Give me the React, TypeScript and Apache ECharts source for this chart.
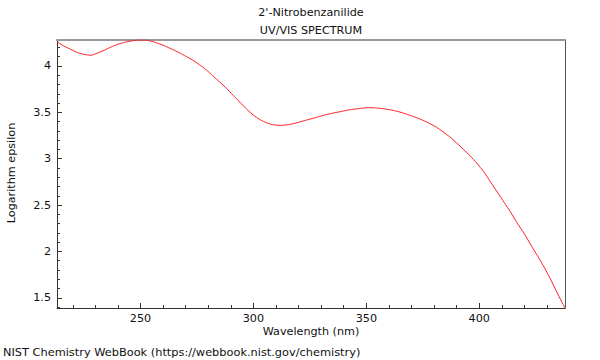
import React, { useEffect, useRef } from "react";
import * as echarts from "echarts";

const wavelength = [
  213, 216, 219, 222, 225, 228, 231, 234, 237, 240, 243, 246, 249, 252, 255, 258, 261, 264, 267, 270,
  273, 276, 279, 282, 285, 288, 291, 294, 297, 300, 303, 306, 309, 312, 315, 318, 321, 324, 327, 330,
  333, 336, 339, 342, 345, 348, 351, 354, 357, 360, 363, 366, 369, 372, 375, 378, 381, 384, 387, 390,
  393, 396, 399, 402, 405, 408, 411, 414, 417, 420, 423, 426, 429, 432, 435, 438,
];
const logEpsilon = [
  4.26, 4.215, 4.18, 4.145, 4.125, 4.115, 4.14, 4.17, 4.205, 4.235, 4.255, 4.27, 4.28, 4.28, 4.265, 4.242, 4.213, 4.18, 4.145, 4.105,
  4.065, 4.015, 3.96, 3.895, 3.828, 3.76, 3.685, 3.61, 3.535, 3.47, 3.42, 3.385, 3.365, 3.36, 3.365, 3.38, 3.4, 3.42, 3.44, 3.46,
  3.48, 3.495, 3.51, 3.525, 3.535, 3.545, 3.55, 3.548, 3.54, 3.53, 3.515, 3.495, 3.47, 3.445, 3.415, 3.38, 3.34, 3.29, 3.235, 3.17,
  3.1, 3.03, 2.95, 2.86, 2.75, 2.64, 2.53, 2.42, 2.3, 2.19, 2.065, 1.945, 1.82, 1.68, 1.53, 1.39,
];

const xMajorTicks = [250, 300, 350, 400];
const xMinorTicks = [220, 230, 240, 260, 270, 280, 290, 310, 320, 330, 340, 360, 370, 380, 390, 410, 420, 430];
const yMajorTicks = [1.5, 2, 2.5, 3, 3.5, 4];
const yMinorTicks = [
  1.4, 1.6, 1.7, 1.8, 1.9, 2.1, 2.2, 2.3, 2.4, 2.6, 2.7, 2.8, 2.9, 3.1, 3.2, 3.3, 3.4, 3.6, 3.7, 3.8, 3.9, 4.1, 4.2,
];

const X_MIN = 213;
const X_MAX = 438;
const Y_MIN = 1.39;
const Y_MAX = 4.28;

const titleLines = ["2'-Nitrobenzanilide", "UV/VIS SPECTRUM"];
const xName = "Wavelength (nm)";
const yName = "Logarithm epsilon";
const footer = "NIST Chemistry WebBook (https://webbook.nist.gov/chemistry)";

const FONT = "DejaVu Sans";
const FS = 11.2;

export default function App() {
  const ref = useRef<HTMLDivElement>(null);
  useEffect(() => {
    if (!ref.current) return;
    const chart = echarts.init(ref.current, null, { renderer: "svg" });
    const baseX = {
      type: "value" as const,
      min: X_MIN,
      max: X_MAX,
      splitLine: { show: false },
    };
    const baseY = {
      type: "value" as const,
      min: Y_MIN,
      max: Y_MAX,
      splitLine: { show: false },
    };
    const textStyle = (t: string, align: string, size: number = FS) => ({
      text: t,
      fill: "#111",
      font: `${size}px ${FONT}`,
      textAlign: align,
      textVerticalAlign: "middle",
    });
    chart.setOption({
      animation: false,
      backgroundColor: "#fff",
      grid: { left: 57, right: 35, top: 40, bottom: 52, show: false },
      xAxis: [
        {
          ...baseX,
          position: "bottom",
          axisLine: { show: true, lineStyle: { color: "#333", width: 1 } },
          axisTick: { show: true, inside: true, length: 5, customValues: xMajorTicks, lineStyle: { color: "#333" } },
          axisLabel: {
            show: true,
            customValues: xMajorTicks,
            margin: 5,
            color: "#111",
            fontFamily: FONT,
            fontSize: FS,
          },
        },
        {
          ...baseX,
          position: "bottom",
          axisLine: { show: false },
          axisTick: { show: true, inside: true, length: 3, customValues: xMinorTicks, lineStyle: { color: "#333" } },
          axisLabel: { show: false },
        },
        {
          ...baseX,
          position: "top",
          axisLine: { show: true, lineStyle: { color: "#999", width: 2 } },
          axisTick: { show: false },
          axisLabel: { show: false },
        },
      ],
      yAxis: [
        {
          ...baseY,
          position: "left",
          axisLine: { show: true, lineStyle: { color: "#333", width: 1 } },
          axisTick: { show: true, inside: true, length: 5, customValues: yMajorTicks, lineStyle: { color: "#333" } },
          axisLabel: {
            show: true,
            customValues: yMajorTicks,
            margin: 6,
            color: "#111",
            fontFamily: FONT,
            fontSize: FS,
          },
        },
        {
          ...baseY,
          position: "left",
          axisLine: { show: false },
          axisTick: { show: true, inside: true, length: 3, customValues: yMinorTicks, lineStyle: { color: "#333" } },
          axisLabel: { show: false },
        },
        {
          ...baseY,
          position: "right",
          axisLine: { show: true, lineStyle: { color: "#555", width: 1 } },
          axisTick: { show: false },
          axisLabel: { show: false },
        },
      ],
      series: [
        {
          type: "line",
          xAxisIndex: 0,
          yAxisIndex: 0,
          data: wavelength.map((w, i) => [w, logEpsilon[i]]),
          showSymbol: false,
          smooth: 0.2,
          lineStyle: { color: "#ff2020", width: 1 },
          clip: true,
        },
      ],
      graphic: [
        { type: "text", x: 311, y: 12, style: textStyle(titleLines[0], "center") },
        { type: "text", x: 311, y: 30, style: textStyle(titleLines[1], "center") },
        { type: "text", x: 311, y: 331, style: textStyle(xName, "center") },
        { type: "text", x: 11, y: 173, rotation: Math.PI / 2, style: textStyle(yName, "center") },
        { type: "text", x: 3, y: 352, style: textStyle(footer, "left", 11.35) },
      ],
    });
    return () => chart.dispose();
  }, []);
  return <div ref={ref} style={{ width: 600, height: 360, position: "fixed", left: 0, top: 0 }} />;
}
